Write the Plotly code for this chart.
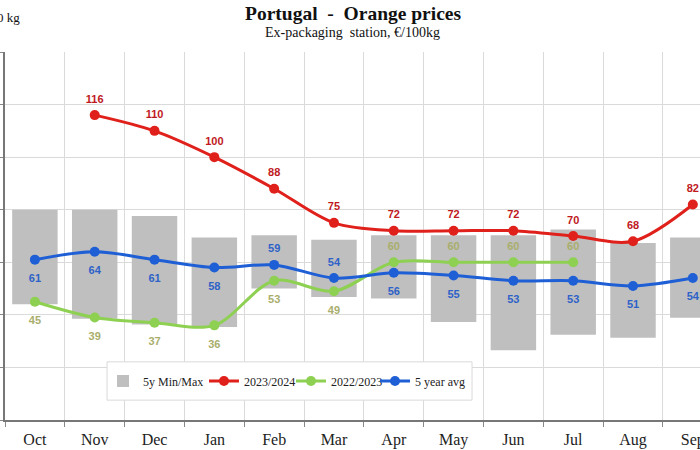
import plotly.graph_objects as go

months = ["Oct", "Nov", "Dec", "Jan", "Feb", "Mar", "Apr", "May", "Jun", "Jul", "Aug", "Sep"]
min5y = [44, 38.5, 36.3, 35.4, 50, 46.8, 46.2, 37.3, 26.5, 32.4, 31.3, 38.9]
max5y = [80, 80, 77.6, 69.4, 70.3, 68.6, 70.3, 70.3, 70.3, 72.5, 67.3, 69.4]

months_2324 = ["Nov", "Dec", "Jan", "Feb", "Mar", "Apr", "May", "Jun", "Jul", "Aug", "Sep"]
s2324 = [116, 110, 100, 88, 75, 72, 72, 72, 70, 68, 82]

months_2223 = ["Oct", "Nov", "Dec", "Jan", "Feb", "Mar", "Apr", "May", "Jun", "Jul"]
s2223 = [45, 39, 37, 36, 53, 49, 60, 60, 60, 60]

avg5 = [61, 64, 61, 58, 59, 54, 56, 55, 53, 53, 51, 54]

pos_2324 = ["top center"] * 11
pos_2223 = ["bottom center"] * 6 + ["top center"] * 4
pos_avg = ["bottom center"] * 4 + ["top center"] * 2 + ["bottom center"] * 6


def label_sizes(positions):
    # invisible marker size controls the text offset from the point
    return [14 if p.startswith("top") else 21 for p in positions]


fig = go.Figure()
fig.add_trace(go.Bar(
    x=months, y=[mx - mn for mx, mn in zip(max5y, min5y)], base=min5y,
    name="5y Min/Max", marker=dict(color="#BFBFBF", line=dict(width=0)),
    width=0.76, hoverinfo="skip", legend="legend"))

series = [
    ("2023/2024", months_2324, s2324, pos_2324, "#E0201B", "#C0191D", "legend2"),
    ("2022/2023", months_2223, s2223, pos_2223, "#8ED052", "#A9AE6C", "legend3"),
    ("5 year avg", months, avg5, pos_avg, "#1F5FD6", "#2E62C8", "legend4"),
]

for name, xs, ys, pos, col, tcol, leg in series:
    fig.add_trace(go.Scatter(
        x=xs, y=ys, name=name, mode="lines+markers",
        line=dict(color=col, width=3, shape="spline", smoothing=0.9),
        marker=dict(color=col, size=10, line=dict(width=0)), legend=leg))

for name, xs, ys, pos, col, tcol, leg in series:
    fig.add_trace(go.Scatter(
        x=xs, y=ys, mode="markers+text", showlegend=False, hoverinfo="skip",
        marker=dict(color="rgba(0,0,0,0)", size=label_sizes(pos),
                    line=dict(width=0, color="rgba(0,0,0,0)")),
        text=[str(v) for v in ys], textposition=pos,
        textfont=dict(family="Liberation Sans", size=11, color=tcol, weight="bold")))

legend_style = dict(orientation="h", y=0.106, xanchor="left", yanchor="middle",
                    bgcolor="rgba(0,0,0,0)", borderwidth=0,
                    font=dict(family="Liberation Serif", size=12, color="#222"),
                    itemwidth=30)

fig.update_layout(
    width=700, height=450,
    margin=dict(l=5, r=0, t=52, b=30),
    paper_bgcolor="white", plot_bgcolor="white",
    showlegend=True,
    legend=dict(x=0.141, **legend_style),
    legend2=dict(x=0.2863, **legend_style),
    legend3=dict(x=0.4115, **legend_style),
    legend4=dict(x=0.5324, **legend_style),
    shapes=[dict(type="rect", xref="paper", yref="paper",
                 x0=0.1468, x1=0.672, y0=0.054, y1=0.158,
                 fillcolor="white", line=dict(color="#D9D9D9", width=1), layer="above")],
    annotations=[
        dict(text="<b>Portugal  -  Orange prices</b>", xref="paper", yref="paper",
             x=0.5, y=1.104, xanchor="center", yanchor="middle", showarrow=False,
             font=dict(family="Liberation Serif", size=19.5, color="#111")),
        dict(text="Ex-packaging  station, €/100kg", xref="paper", yref="paper",
             x=0.5, y=1.053, xanchor="center", yanchor="middle", showarrow=False,
             font=dict(family="Liberation Serif", size=14, color="#111")),
        dict(text="€/100 kg", xref="paper", yref="paper",
             x=0.0245, y=1.095, xanchor="right", yanchor="middle", showarrow=False,
             font=dict(family="Liberation Serif", size=13, color="#111")),
    ],
)

fig.update_xaxes(
    type="category", categoryorder="array", categoryarray=months,
    range=[-0.5, 11.12], tickson="boundaries", automargin=False,
    ticks="outside", ticklen=5, tickcolor="#888", ticklabelstandoff=4,
    showgrid=True, gridcolor="#DADADA", gridwidth=1,
    showline=True, linecolor="#777", linewidth=1.5,
    tickfont=dict(family="Liberation Serif", size=16, color="#222"))

fig.update_yaxes(
    range=[0, 140], dtick=20, showticklabels=False, automargin=False,
    ticks="outside", ticklen=5, tickcolor="#888",
    showgrid=True, gridcolor="#DADADA", gridwidth=1,
    showline=True, linecolor="#777", linewidth=1.5, zeroline=False)

fig.write_html("out.html", config={"displayModeBar": False},
               post_script="document.body.style.margin='0';")
